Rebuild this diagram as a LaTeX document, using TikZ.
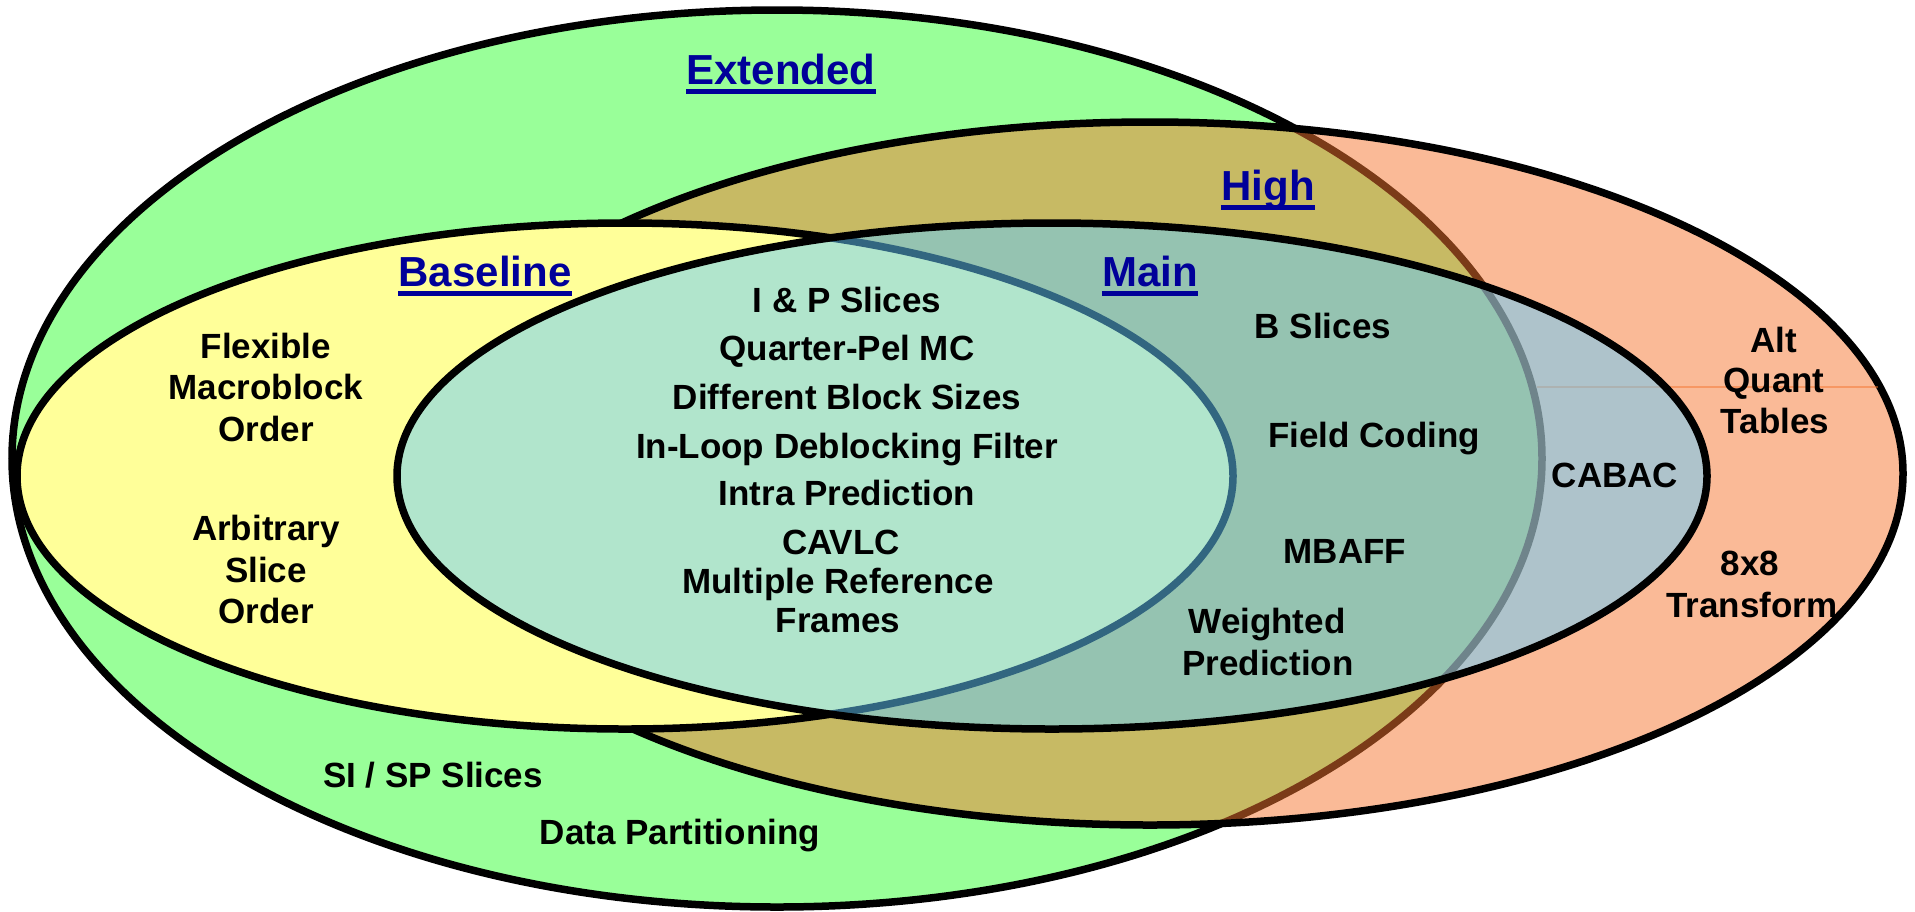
\documentclass[tikz,border=0pt]{standalone}
\usepackage{fontspec}
\setmainfont{Liberation Sans}
\definecolor{extgreen}{RGB}{153,255,153}
\definecolor{basey}{RGB}{255,255,153}
\definecolor{highor}{RGB}{246,118,48}
\definecolor{mainbl}{RGB}{100,205,255}
\definecolor{headblue}{RGB}{0,0,153}
\begin{document}
\begin{tikzpicture}[x=0.5pt,y=-0.5pt,
  ring/.style={line width=3.75pt, draw=black},
  lbl/.style={font=\fontsize{17.5}{20}\selectfont\bfseries, text=black, inner sep=0pt, anchor=base},
  head/.style={font=\fontsize{21}{24}\selectfont\bfseries, text=headblue, inner sep=0pt, anchor=base},
  uline/.style={line width=2.2pt, draw=headblue},
  faint/.style={draw=highor, draw opacity=0.5, line width=0.6pt}]
\useasboundingbox[fill=white] (0,0) rectangle (1915,911);
% Extended
\draw[ring, fill=extgreen] (777,458.5) ellipse [x radius=382.5pt, y radius=224.25pt];
% High
\draw[ring, fill=highor, fill opacity=0.5] (1150,473.5) ellipse [x radius=376.5pt, y radius=175.75pt];
\coordinate (fl1) at (1537,387);
\coordinate (fl2) at (1878,387);
\draw[faint] (fl1) -- (fl2);
% Baseline
\draw[ring, fill=basey] (625,476) ellipse [x radius=304pt, y radius=126.5pt];
% Main
\draw[ring, fill=mainbl, fill opacity=0.5] (1052,476) ellipse [x radius=327.5pt, y radius=126.5pt];

% headings
\node[head] (hext) at (781,84) {Extended};
\node[head] (hhigh) at (1268,200) {High};
\node[head] (hbase) at (485,286) {Baseline};
\node[head] (hmain) at (1150,286) {Main};
\draw[uline] ([yshift=-3.75pt]hext.base west) -- ([yshift=-3.75pt]hext.base east);
\draw[uline] ([yshift=-3.75pt]hhigh.base west) -- ([yshift=-3.75pt]hhigh.base east);
\draw[uline] ([yshift=-3.75pt]hbase.base west) -- ([yshift=-3.75pt]hbase.base east);
\draw[uline] ([yshift=-3.75pt]hmain.base west) -- ([yshift=-3.75pt]hmain.base east);

% Baseline only
\node[lbl] (fmo1) at (266,358) {Flexible};
\node[lbl] (fmo2) at (266,399) {Macroblock};
\node[lbl] (fmo3) at (266,441) {Order};
\node[lbl] (aso1) at (266,540) {Arbitrary};
\node[lbl] (aso2) at (266,582) {Slice};
\node[lbl] (aso3) at (266,623) {Order};

% common core
\node[lbl] (c1) at (847,312) {I \& P Slices};
\node[lbl] (c2) at (847,360) {Quarter-Pel MC};
\node[lbl] (c3) at (847,409) {Different Block Sizes};
\node[lbl] (c4) at (847,458) {In-Loop Deblocking Filter};
\node[lbl] (c5) at (847,505) {Intra Prediction};
\node[lbl] (c6) at (841,554) {CAVLC};
\node[lbl] (c7) at (838,593) {Multiple Reference};
\node[lbl] (c8) at (838,632) {Frames};

% Main
\node[lbl] (m1) at (1323,338) {B Slices};
\node[lbl] (m2) at (1374,447) {Field Coding};
\node[lbl] (m3) at (1345,563) {MBAFF};
\node[lbl] (m4) at (1267,633) {Weighted};
\node[lbl] (m5) at (1268,675) {Prediction};
\node[lbl] (m6) at (1615,487) {CABAC};

% High
\node[lbl] (h1) at (1774,352) {Alt};
\node[lbl] (h2) at (1774,392) {Quant};
\node[lbl] (h3) at (1775,433) {Tables};
\node[lbl] (h4) at (1750,575) {8x8};
\node[lbl] (h5) at (1752,617) {Transform};

% Extended
\node[lbl] (e1) at (433,787) {SI / SP Slices};
\node[lbl] (e2) at (680,844) {Data Partitioning};
\end{tikzpicture}
\end{document}
